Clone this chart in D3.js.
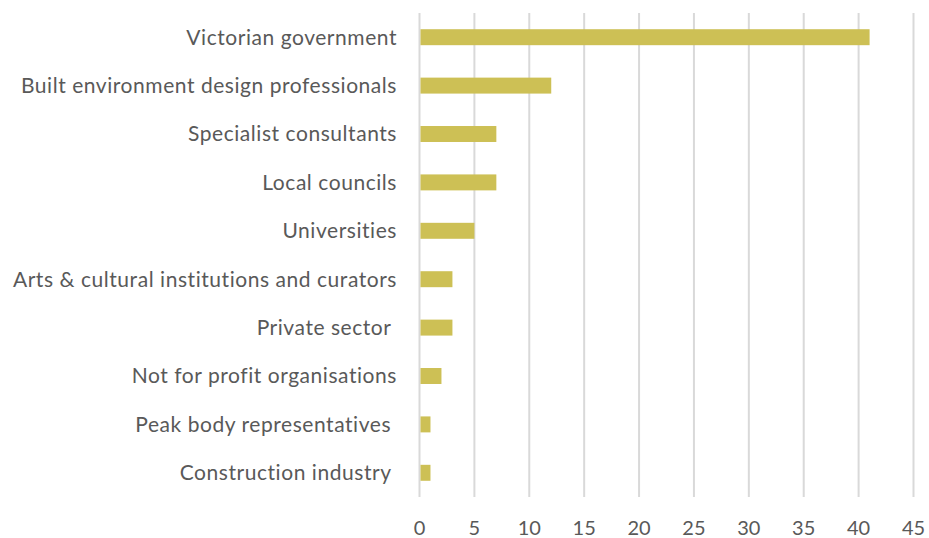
<!DOCTYPE html>
<html>
<head>
<meta charset="utf-8">
<script src="https://cdn.jsdelivr.net/npm/d3@7"></script>
<style>
  html, body { margin: 0; padding: 0; background: #fff; }
  svg text { font-family: Lato, "Open Sans", sans-serif; fill: #595959; }
</style>
</head>
<body>
<svg id="chart" width="929" height="538"></svg>
<script>
// Stakeholder groups, top to bottom
const categories = [
  "Victorian government",
  "Built environment design professionals",
  "Specialist consultants",
  "Local councils",
  "Universities",
  "Arts & cultural institutions and curators",
  "Private sector ",
  "Not for profit organisations",
  "Peak body representatives ",
  "Construction industry "
];
const counts = [41, 12, 7, 7, 5, 3, 3, 2, 1, 1];
const tickValues = [0, 5, 10, 15, 20, 25, 30, 35, 40, 45];

const svg = d3.select("#chart");
const plot = { left: 419.5, right: 913.5, top: 13, bottom: 497 };

const x = d3.scaleLinear().domain([0, 45]).range([plot.left, plot.right]);
const y = d3.scaleBand().domain(categories).range([plot.top, plot.bottom]).paddingInner(0.67).paddingOuter(0.335);

// vertical gridlines
svg.append("g")
  .selectAll("line")
  .data(tickValues)
  .join("line")
  .attr("x1", d => x(d)).attr("x2", d => x(d))
  .attr("y1", plot.top).attr("y2", plot.bottom)
  .attr("stroke", "#d9d9d9").attr("stroke-width", 2);

// bars
svg.append("g")
  .selectAll("rect")
  .data(categories)
  .join("rect")
  .attr("x", x(0) + 1)
  .attr("y", d => y(d))
  .attr("width", (d, i) => x(counts[i]) - x(0) - 1)
  .attr("height", y.bandwidth())
  .attr("fill", "#cdc055");

// category labels
svg.append("g")
  .selectAll("text")
  .data(categories)
  .join("text")
  .attr("x", 397)
  .attr("y", d => y(d) + y.bandwidth() / 2)
  .attr("dy", "0.35em")
  .attr("text-anchor", "end")
  .style("font-size", "21px")
  .style("letter-spacing", "0.55px")
  .style("white-space", "pre")
  .attr("xml:space", "preserve")
  .text(d => d);

// x-axis tick labels
svg.append("g")
  .selectAll("text")
  .data(tickValues)
  .join("text")
  .attr("x", d => x(d))
  .attr("y", 528)
  .attr("dy", "0.35em")
  .attr("text-anchor", "middle")
  .style("font-size", "20px")
  .text(d => d);
</script>
</body>
</html>
